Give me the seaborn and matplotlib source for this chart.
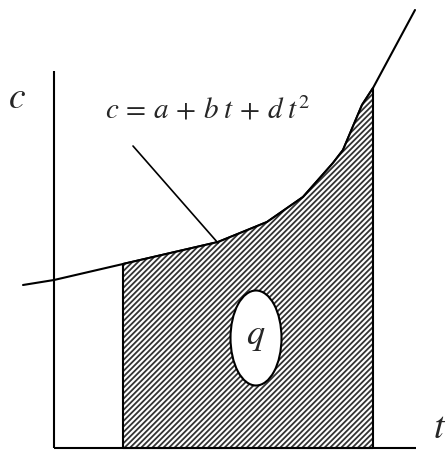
import numpy as np
import pandas as pd
import matplotlib
matplotlib.use("Agg")
import matplotlib.pyplot as plt
import seaborn as sns
from matplotlib.patches import Ellipse

sns.set_style("white")
plt.rcParams['mathtext.fontset'] = 'stix'
plt.rcParams['hatch.linewidth'] = 1.3
plt.rcParams['hatch.color'] = '#333333'

# curve c(t)
curve_t = [-31, 0, 69, 164, 191, 213, 249, 279, 289, 308, 319, 361]
curve_c = [163, 168, 184, 206, 217, 226, 251, 285, 298, 343, 360, 438]
# integration limits
t_start, t_end = 69, 319
# axis extents
t_axis_end, c_axis_end = 362, 377
# leader line from label to curve
leader_t = [79, 164]
leader_c = [302, 205]

fig = plt.figure(figsize=(4.46, 4.62), dpi=100)
ax = fig.add_axes([0, 0, 1, 1])

df = pd.DataFrame({"t": curve_t, "c": curve_c})
sns.lineplot(data=df, x="t", y="c", sort=False, estimator=None,
             color="black", linewidth=1.5, ax=ax)

t = np.array(curve_t, dtype=float)
c = np.array(curve_c, dtype=float)
mask = (t >= t_start) & (t <= t_end)
ax.fill_between(t[mask], c[mask], 0, facecolor="white", edgecolor="#333333",
                hatch="//////", linewidth=0, zorder=2)
ax.fill_between(t[mask], c[mask], 0, facecolor="none", edgecolor="black",
                linewidth=1.5, zorder=3)

# axes
ax.plot([0, 0], [0, c_axis_end], color="black", lw=1.5, solid_capstyle="butt")
ax.plot([0, t_axis_end], [0, 0], color="black", lw=1.5, solid_capstyle="butt")
# leader
ax.plot(leader_t, leader_c, color="black", lw=1.2)

# ellipse with q
ell = Ellipse((202, 110), 51, 95, facecolor="white", edgecolor="black",
              lw=1.5, zorder=4)
ax.add_patch(ell)
ax.text(202, 112, r"$q$", fontsize=26, ha="center", va="center", zorder=5)

ax.text(-37, 350, r"$c$", fontsize=27, ha="center", va="center")
ax.text(386, 20, r"$t$", fontsize=27, ha="center", va="center")
ax.text(51, 330, r"$c\,=\,a\,+\,b\;t\,+\,d\;t^{2}$", fontsize=21,
        ha="left", va="baseline")

ax.set_xlim(-54, 392)
ax.set_ylim(-14, 448)
ax.set_axis_off()
fig.savefig("out.png", dpi=100)
